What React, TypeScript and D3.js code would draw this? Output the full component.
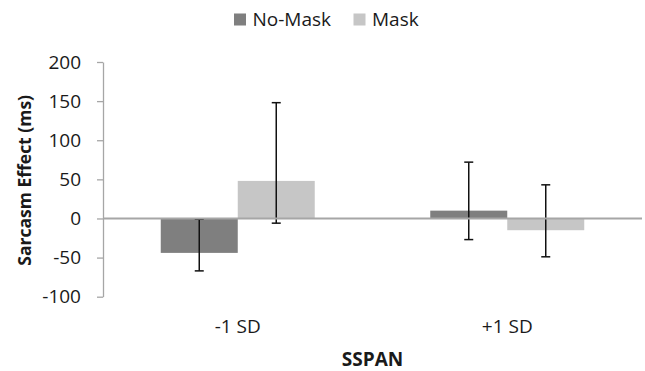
import React, { useEffect, useRef } from "react";
import * as d3 from "d3";

// data
const groups = ["-1 SD", "+1 SD"];
const series = ["No-Mask", "Mask"];
const colors = ["#7f7f7f", "#c6c6c6"];
const noMask = [-44, 10];
const mask = [48, -15];
const noMaskLow = [-67, -27];
const noMaskHigh = [-1, 72];
const maskLow = [-6, -49];
const maskHigh = [148, 43];
const yTicks = [-100, -50, 0, 50, 100, 150, 200];

const App = () => {
  const ref = useRef<SVGSVGElement>(null);

  useEffect(() => {
    const width = 645,
      height = 371;
    const margin = { top: 62, right: 3, bottom: 74, left: 103 };
    const font = "'Open Sans', sans-serif";

    const svg = d3.select(ref.current);
    svg.selectAll("*").remove();

    const x0 = d3
      .scaleBand()
      .domain(groups)
      .range([margin.left, width - margin.right])
      .paddingInner(0.4286)
      .paddingOuter(0.2143);
    const x1 = d3.scaleBand().domain(series).range([0, x0.bandwidth()]);
    const y = d3
      .scaleLinear()
      .domain([-100, 200])
      .range([height - margin.bottom - 0.3, margin.top]);

    const rows = groups.map((g, i) => [
      { g, s: series[0], v: noMask[i], lo: noMaskLow[i], hi: noMaskHigh[i], c: colors[0] },
      { g, s: series[1], v: mask[i], lo: maskLow[i], hi: maskHigh[i], c: colors[1] },
    ]).flat();

    // bars
    svg
      .append("g")
      .selectAll("rect")
      .data(rows)
      .enter()
      .append("rect")
      .attr("x", (d) => x0(d.g)! + x1(d.s)!)
      .attr("width", x1.bandwidth())
      .attr("y", (d) => y(Math.max(0, d.v)))
      .attr("height", (d) => Math.abs(y(d.v) - y(0)))
      .attr("fill", (d) => d.c);

    // error bars
    const eb = svg
      .append("g")
      .selectAll("g")
      .data(rows)
      .enter()
      .append("g")
      .attr("stroke", "#111")
      .attr("stroke-width", 1.5);
    const cx = (d: any) => x0(d.g)! + x1(d.s)! + x1.bandwidth() / 2;
    eb.append("line")
      .attr("x1", cx)
      .attr("x2", cx)
      .attr("y1", (d) => y(d.lo))
      .attr("y2", (d) => y(d.hi));
    eb.append("line")
      .attr("x1", (d) => cx(d) - 4.5)
      .attr("x2", (d) => cx(d) + 4.5)
      .attr("y1", (d) => y(d.lo))
      .attr("y2", (d) => y(d.lo));
    eb.append("line")
      .attr("x1", (d) => cx(d) - 4.5)
      .attr("x2", (d) => cx(d) + 4.5)
      .attr("y1", (d) => y(d.hi))
      .attr("y2", (d) => y(d.hi));

    // y axis
    const yAxis = svg
      .append("g")
      .attr("transform", "translate(" + margin.left + ",0)")
      .call(
        d3
          .axisLeft(y)
          .tickValues(yTicks)
          .tickFormat((d) => String(d))
          .tickSize(6)
          .tickPadding(16)
          .tickSizeOuter(0)
      );
    yAxis.select(".domain").attr("stroke", "#a6a6a6").attr("stroke-width", 1.3);
    yAxis.selectAll(".tick line").attr("stroke", "#a6a6a6").attr("stroke-width", 1.3);
    yAxis
      .selectAll(".tick text")
      .attr("fill", "#1a1a1a")
      .style("font-family", font)
      .style("font-size", "19px");

    // zero line
    svg
      .append("line")
      .attr("x1", margin.left)
      .attr("x2", width - margin.right)
      .attr("y1", y(0))
      .attr("y2", y(0))
      .attr("stroke", "#a6a6a6")
      .attr("stroke-width", 2);

    // category labels
    svg
      .append("g")
      .selectAll("text")
      .data(groups)
      .enter()
      .append("text")
      .attr("x", (d) => x0(d)! + x0.bandwidth() / 2)
      .attr("y", 333)
      .attr("text-anchor", "middle")
      .style("font-family", font)
      .style("font-size", "19px")
      .attr("fill", "#1a1a1a")
      .text((d) => d);

    // axis titles
    svg
      .append("text")
      .attr("x", (margin.left + width - margin.right) / 2)
      .attr("y", 366)
      .attr("text-anchor", "middle")
      .style("font-family", font)
      .style("font-size", "19px")
      .style("font-weight", "bold")
      .attr("fill", "#1a1a1a")
      .text("SSPAN");
    svg
      .append("text")
      .attr("transform", "translate(31," + (y(50) + 1) + ") rotate(-90)")
      .attr("text-anchor", "middle")
      .style("font-family", font)
      .style("font-size", "17.5px")
      .style("font-weight", "bold")
      .attr("fill", "#1a1a1a")
      .text("Sarcasm Effect (ms)");

    // legend
    const legendX = [234, 353.5];
    const legend = svg
      .append("g")
      .selectAll("g")
      .data(series)
      .enter()
      .append("g")
      .attr("transform", (d, i) => "translate(" + legendX[i] + ",13.5)");
    legend
      .append("rect")
      .attr("width", 12)
      .attr("height", 12)
      .attr("fill", (d, i) => colors[i]);
    legend
      .append("text")
      .attr("x", 18.5)
      .attr("y", 12.3)
      .style("font-family", font)
      .style("font-size", "19px")
      .attr("fill", "#1a1a1a")
      .text((d) => d);
  }, []);

  return (
    <svg
      ref={ref}
      width={645}
      height={371}
      style={{ position: "absolute", left: 0, top: 0, background: "#fff" }}
    />
  );
};

export default App;
